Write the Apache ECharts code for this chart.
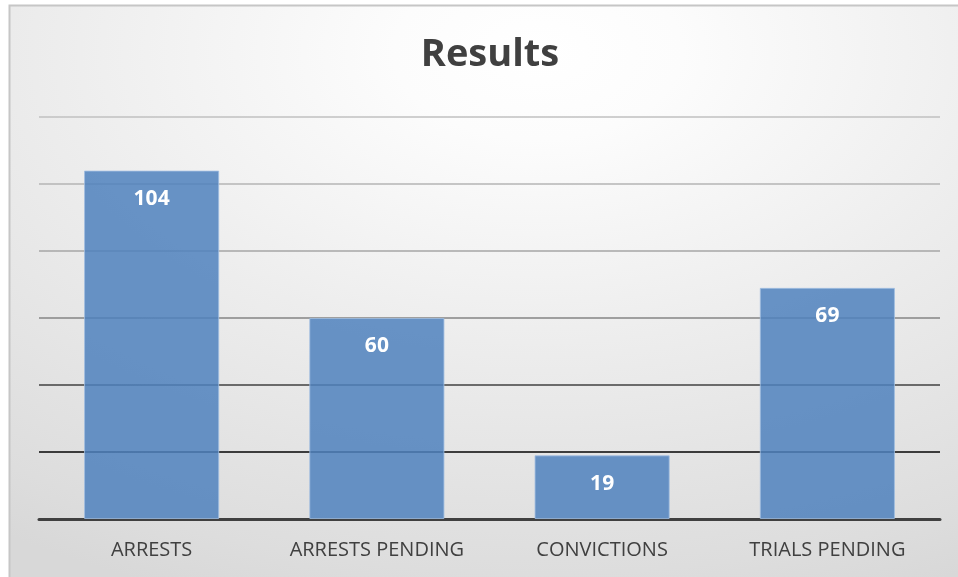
<!DOCTYPE html>
<html>
<head>
<meta charset="utf-8">
<script src="https://cdn.jsdelivr.net/npm/echarts@6/dist/echarts.min.js"></script>
<style>html,body{margin:0;padding:0;background:#fff;}#c{width:958px;height:577px;}</style>
</head>
<body>
<div id="c"></div>
<script>
const categories = ['ARRESTS', 'ARRESTS PENDING', 'CONVICTIONS', 'TRIALS PENDING'];
const values = [104, 60, 19, 69];
const yTicks = [0, 20, 40, 60, 80, 100, 120];

const chart = echarts.init(document.getElementById('c'), null, {renderer: 'canvas'});
chart.setOption({
  animation: false,
  backgroundColor: '#ffffff',
  graphic: [{
    type: 'rect',
    z: -10,
    silent: true,
    x: 9.5, y: 5.5,
    scaleX: 960 / 580,
    shape: {x: 0, y: 0, width: 580, height: 580},
    style: {
      fill: {
        type: 'radial', x: 0.55, y: 0.08, r: 1,
        colorStops: [
          {offset: 0, color: '#ffffff'},
          {offset: 0.15, color: '#fcfcfc'},
          {offset: 0.5, color: '#ededed'},
          {offset: 0.7, color: '#e5e5e5'},
          {offset: 0.9, color: '#dddddd'},
          {offset: 1, color: '#d8d8d8'}
        ]
      }
    }
  }, {
    type: 'rect',
    z: -9,
    silent: true,
    shape: {x: 9.5, y: 5.5, width: 960, height: 580},
    style: {fill: null, stroke: '#c6c6c6', lineWidth: 2}
  }],
  title: {
    text: 'Results',
    left: 485,
    textAlign: 'center',
    top: 31,
    textStyle: {fontFamily: 'Open Sans', fontWeight: 'bold', fontSize: 38, color: '#404040'}
  },
  grid: {left: 39, right: 18, top: 117, bottom: 58, containLabel: false},
  xAxis: {
    type: 'category',
    data: categories,
    axisTick: {show: false},
    axisLine: {lineStyle: {color: '#404040', width: 3}},
    axisLabel: {interval: 0, fontFamily: 'Open Sans', fontSize: 20, color: '#404040', margin: 21}
  },
  yAxis: {
    type: 'value',
    min: yTicks[0],
    max: yTicks[yTicks.length - 1],
    interval: 20,
    axisLabel: {show: false},
    axisLine: {show: false},
    axisTick: {show: false},
    splitLine: {
      lineStyle: {
        width: 1.5,
        color: ['#404040', '#050505', '#404040', '#858585', '#a6a6a6', '#b4b4b4', '#c0c0c0']
      }
    }
  },
  series: [{
    type: 'bar',
    data: values,
    barCategoryGap: '40%',
    itemStyle: {color: 'rgba(79,129,189,0.85)', borderColor: 'rgba(160,190,225,0.8)', borderWidth: 1},
    label: {
      show: true,
      position: 'insideTop',
      distance: 18,
      fontFamily: 'Open Sans',
      fontWeight: 'bold',
      fontSize: 21,
      color: '#ffffff'
    }
  }]
});
</script>
</body>
</html>
